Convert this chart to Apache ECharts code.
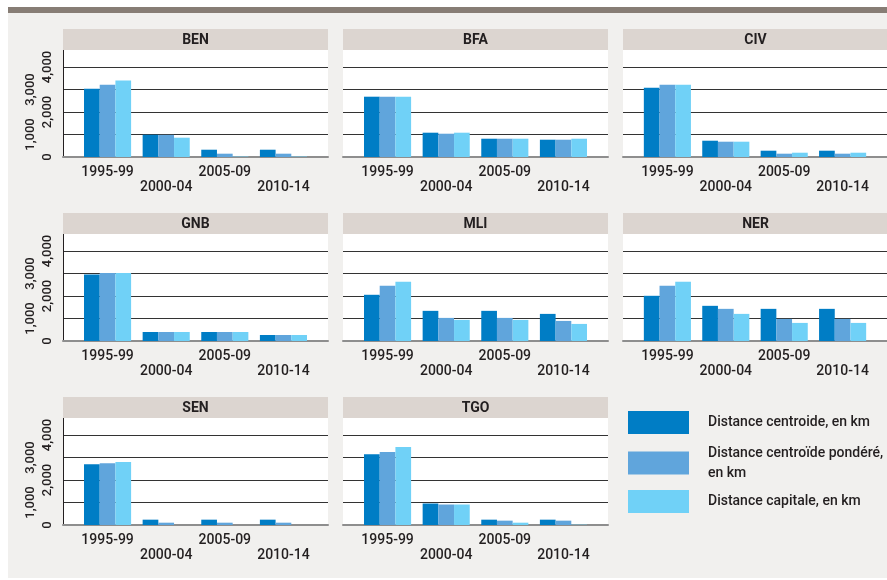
<!DOCTYPE html>
<html>
<head>
<meta charset="UTF-8">
<title>Distances</title>
<style>
    html,body{margin:0; padding:0; background:#fff;}
    #wrap{position:relative; width:887px; height:580px;}
    #bg{position:absolute; left:8px; top:13px; width:879px; height:565px; background:#f1f0ee;}
    #bar{position:absolute; left:8px; top:7px; width:879px; height:6px; background:#877d75;}
    #main{position:absolute; left:0; top:0; width:887px; height:580px;}
</style>
<script src="https://cdn.jsdelivr.net/npm/echarts@6/dist/echarts.min.js"></script>
</head>
<body>
<div id="wrap">
    <div id="bg"></div>
    <div id="bar"></div>
    <div id="main"></div>
</div>
<script type="text/javascript">
    var periods = ['1995-99', '2000-04', '2005-09', '2010-14'];
    var countries = ['BEN', 'BFA', 'CIV', 'GNB', 'MLI', 'NER', 'SEN', 'TGO'];
    var seriesNames = ['Distance centroide, en km', 'Distance centroïde pondéré, en km', 'Distance capitale, en km'];
    var yTicks = [0, 1000, 2000, 3000, 4000];

    // une ligne par pays, dans l'ordre de countries
    var centroide = [
        [3035, 990, 324, 324],
        [2680, 1080, 813, 769],
        [3080, 724, 280, 280],
        [2960, 400, 400, 268],
        [2054, 1340, 1340, 1205],
        [2009, 1563, 1429, 1429],
        [2700, 237, 237, 237],
        [3150, 955, 237, 237]
    ];
    var pondere = [
        [3213, 985, 147, 147],
        [2680, 1035, 813, 769],
        [3213, 680, 147, 147],
        [3020, 400, 400, 268],
        [2455, 1027, 1027, 893],
        [2455, 1429, 982, 982],
        [2750, 103, 103, 103],
        [3240, 910, 193, 193]
    ];
    var capitale = [
        [3405, 858, 20, 20],
        [2680, 1080, 813, 813],
        [3213, 680, 191, 191],
        [3020, 400, 400, 268],
        [2634, 938, 938, 759],
        [2634, 1205, 804, 804],
        [2795, 0, 0, 0],
        [3465, 910, 103, 15]
    ];

    var colors = ['#007dc5', '#60a5dc', '#70d1f7'];
    var FONT = "Roboto,'Liberation Sans',sans-serif";
    var TXT = '#231f20';
    var colLeft = [63, 343, 623];
    var rowTop = [49, 233, 417];
    var panelW = 265, panelH = 108;

    function fmtY(v) {
        return String(v).replace(/\B(?=(\d{3})+(?!\d))/g, ',');
    }
    // étiquettes en quinconce : 0, 2,000, 4,000 près de l'axe ; 1,000 et 3,000 plus à gauche
    var yTicksNear = yTicks.filter(function (v, i) { return i % 2 === 0; });
    var yTicksFar = yTicks.filter(function (v, i) { return i % 2 === 1; });

    var grids = [], xAxes = [], yAxes = [], series = [], graphics = [];
    var allValues = [centroide, pondere, capitale];

    function yLabel(vals, margin) {
        return {
            customValues: vals,
            showMinLabel: true, showMaxLabel: true, hideOverlap: false,
            rotate: 90, margin: margin,
            fontSize: 13, fontWeight: 500, color: TXT, fontFamily: FONT,
            formatter: fmtY
        };
    }

    countries.forEach(function (c, k) {
        var col = k % 3, row = Math.floor(k / 3);
        var left = colLeft[col], top = rowTop[row];
        grids.push({
            left: left, top: top, width: panelW, height: panelH,
            show: true, backgroundColor: '#fff', borderWidth: 0
        });
        xAxes.push({
            gridIndex: k, type: 'value', min: -0.76, max: 3.76,
            splitLine: {show: false},
            axisTick: {show: false},
            axisLine: {show: true, lineStyle: {color: '#8e8e8e', width: 2}},
            axisLabel: {
                customValues: [0, 1, 2, 3],
                showMinLabel: true, showMaxLabel: true, hideOverlap: false,
                margin: 8, lineHeight: 15, fontSize: 14, fontWeight: 500, color: TXT, fontFamily: FONT,
                formatter: function (v) {
                    var i = Math.round(v);
                    return i % 2 ? '\n' + periods[i] : periods[i];
                }
            }
        });
        var yIndex = yAxes.length;
        var lab = yLabel(yTicksNear, 9);
        lab.show = col === 0;
        yAxes.push({
            gridIndex: k, type: 'value', position: 'left', min: 0, max: 4800, interval: 1000,
            splitLine: {show: true, lineStyle: {color: '#333', width: 1}},
            axisTick: {show: false},
            axisLine: {show: col === 0, onZero: false, lineStyle: {color: TXT, width: 1}},
            axisLabel: lab
        });
        if (col === 0) {
            yAxes.push({
                gridIndex: k, type: 'value', position: 'left', offset: 0, min: 0, max: 4800, interval: 1000,
                splitLine: {show: false},
                axisTick: {show: false},
                axisLine: {show: false, onZero: false},
                axisLabel: yLabel(yTicksFar, 26)
            });
        }
        allValues.forEach(function (vals, s) {
            series.push({
                type: 'bar', name: seriesNames[s],
                xAxisIndex: k, yAxisIndex: yIndex,
                barWidth: 15.7, barGap: '0%',
                itemStyle: {color: colors[s]},
                data: periods.map(function (p, i) { return [i, vals[k][i]]; })
            });
        });
        // bandeau titre
        graphics.push({
            type: 'rect', z: 100,
            shape: {x: left, y: top - 20, width: panelW, height: 21},
            style: {fill: '#dcd5d0'}
        });
        graphics.push({
            type: 'text', z: 101, x: left + panelW / 2, y: top - 9,
            style: {
                text: c, textAlign: 'center', textVerticalAlign: 'middle',
                fontSize: 14, fontWeight: 'bold', fontFamily: FONT, fill: TXT
            }
        });
    });

    var legendTops = [411, 443, 490];
    var legends = seriesNames.map(function (n, i) {
        return {
            data: [n], left: 628, top: legendTops[i], orient: 'vertical',
            padding: 0, itemWidth: 61, itemHeight: 23, icon: 'rect',
            selectedMode: false,
            formatter: function (name) { return name.replace('pondéré, ', 'pondéré,\n'); },
            textStyle: {fontSize: 14, fontWeight: 500, lineHeight: 20, color: TXT, fontFamily: FONT, padding: [0, 0, 0, 14]}
        };
    });

    var myChart = echarts.init(document.getElementById('main'));
    myChart.setOption({
        animation: false,
        grid: grids,
        xAxis: xAxes,
        yAxis: yAxes,
        legend: legends,
        graphic: graphics,
        series: series
    });
</script>
</body>
</html>
